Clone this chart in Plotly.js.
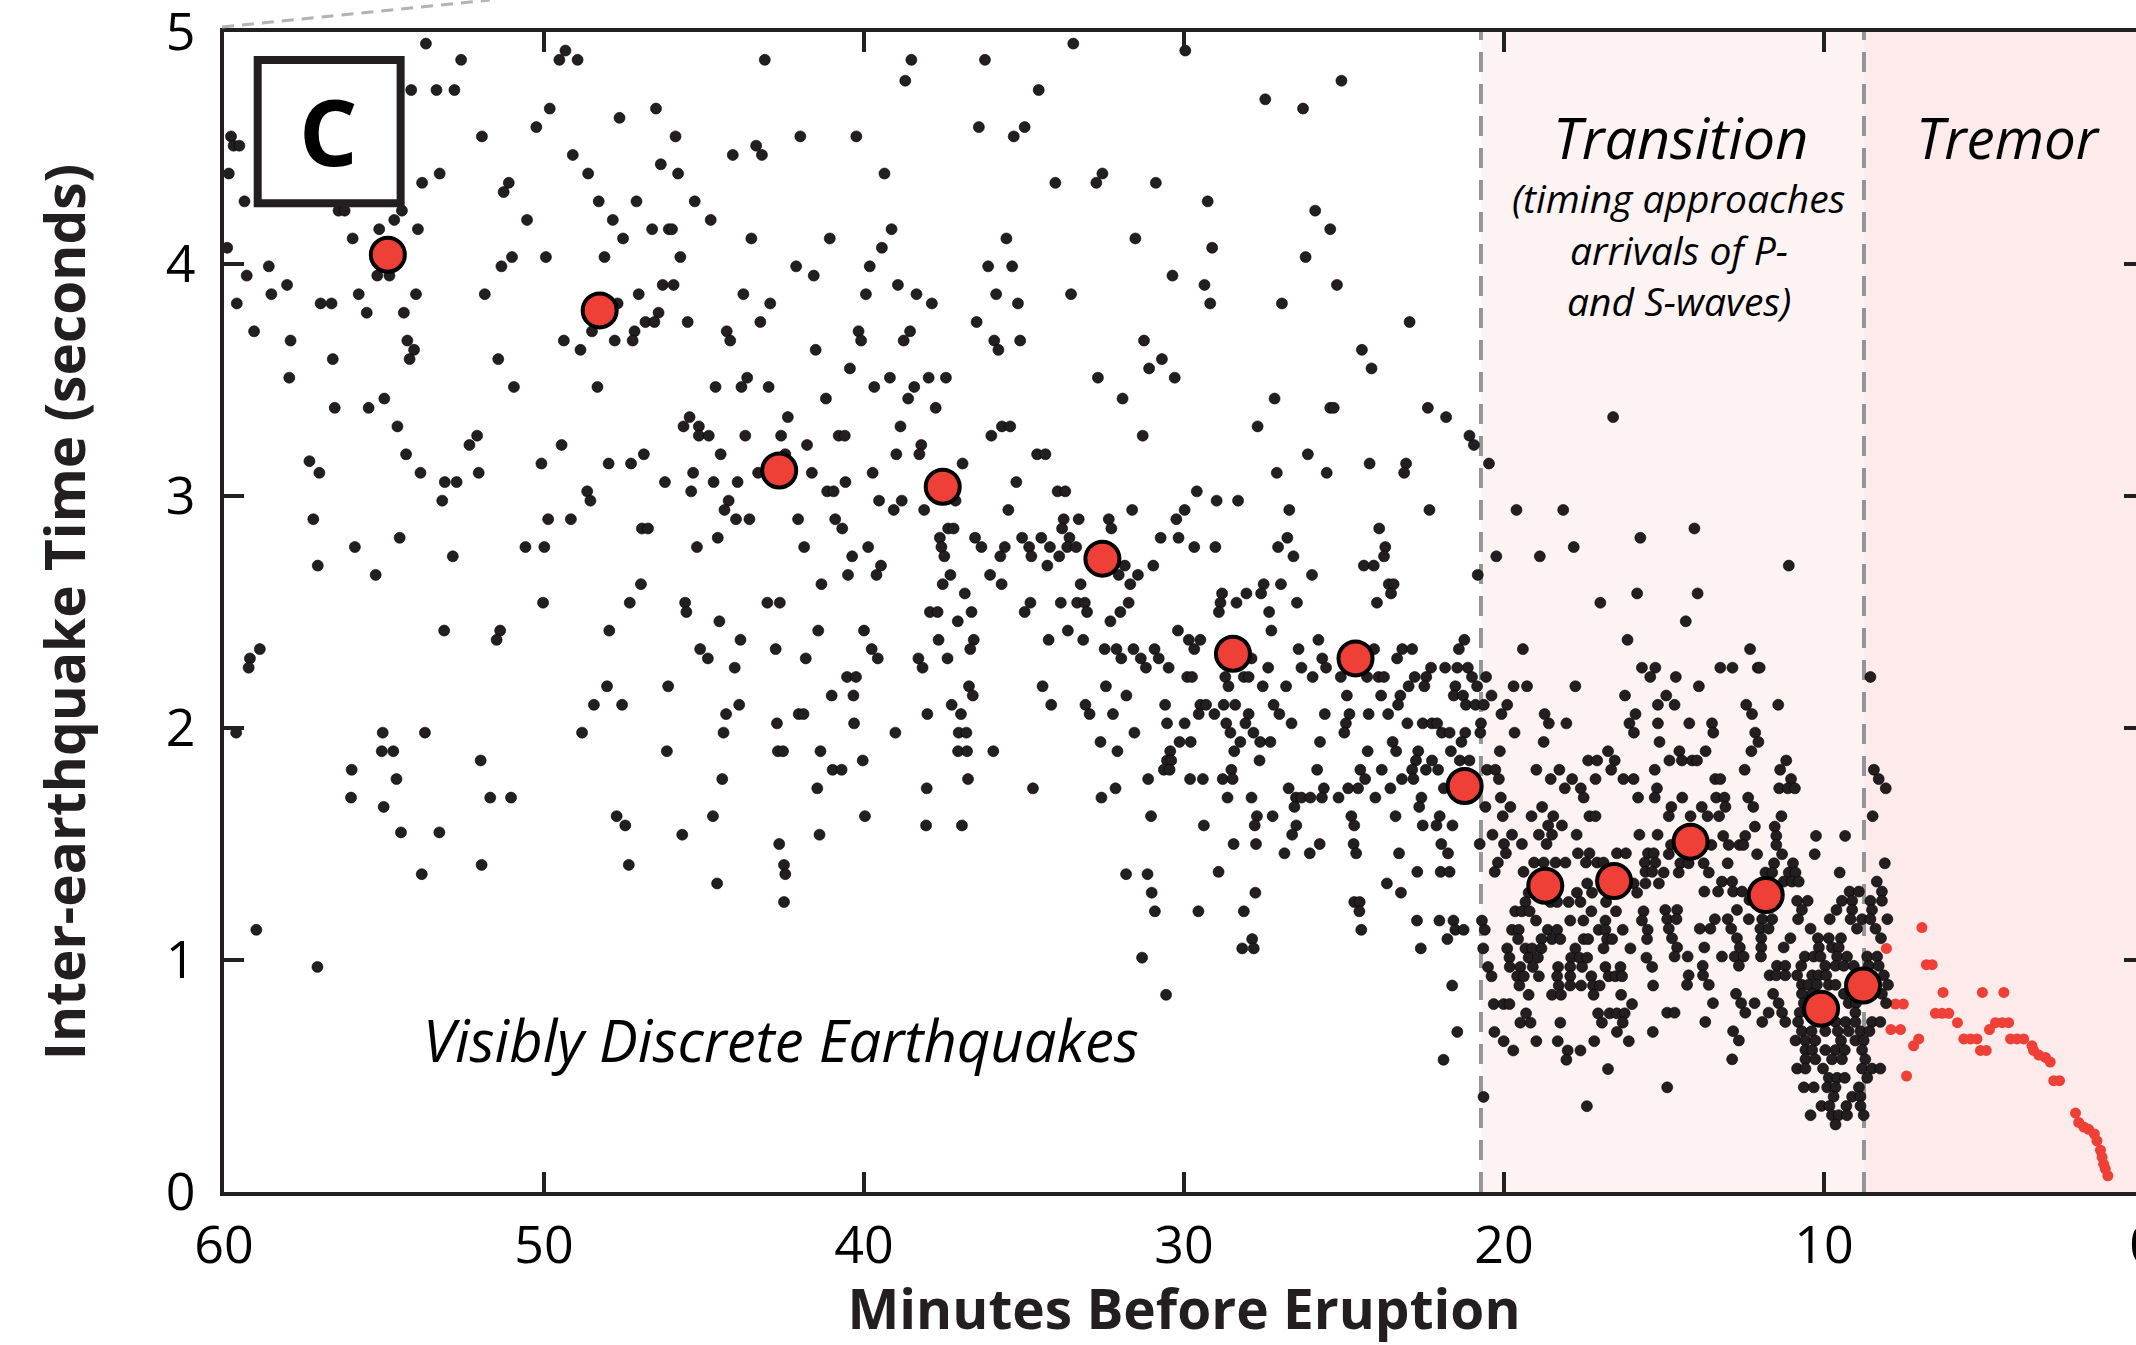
<!DOCTYPE html>
<html>
<head>
<meta charset="utf-8">
<script src="https://cdn.plot.ly/plotly-3.0.1.min.js"></script>
<style>
  html, body { margin: 0; padding: 0; overflow: hidden; background: #fff; }
  #chart { width: 2152px; height: 1345px; }
</style>
</head>
<body>
<div id="chart"></div>
<script>
// ---- Data: [minutes before eruption, inter-earthquake time (s)] ----
const quakesRegion1 = [[53.69,4.95],[52.59,4.88],[49.33,4.92],[49.52,4.88],[48.95,4.88],[54.15,4.75],[53.36,4.75],[52.80,4.75],[49.82,4.67],[47.64,4.63],[46.50,4.67],[59.78,4.55],[59.70,4.51],[59.52,4.51],[51.94,4.55],[50.24,4.59],[45.89,4.55],[59.85,4.39],[53.26,4.39],[53.81,4.35],[49.10,4.47],[48.62,4.39],[46.35,4.43],[45.81,4.39],[51.10,4.35],[51.26,4.31],[59.36,4.27],[48.29,4.27],[47.11,4.27],[45.29,4.27],[56.42,4.23],[56.23,4.23],[54.44,4.23],[54.68,4.19],[50.53,4.19],[47.85,4.19],[55.15,4.15],[53.94,4.15],[46.62,4.15],[46.10,4.15],[46.00,4.15],[55.98,4.11],[47.53,4.11],[59.90,4.07],[51.00,4.03],[49.94,4.03],[48.11,4.03],[45.74,4.03],[51.33,3.99],[58.60,3.99],[59.29,3.95],[55.21,3.95],[54.83,3.95],[58.03,3.91],[46.29,3.91],[45.95,3.91],[58.52,3.87],[55.79,3.87],[54.00,3.87],[51.85,3.87],[47.04,3.87],[59.60,3.83],[56.98,3.83],[56.64,3.83],[47.70,3.83],[55.54,3.79],[54.38,3.79],[46.42,3.79],[46.83,3.75],[46.55,3.75],[45.51,3.75],[59.06,3.71],[48.50,3.71],[47.17,3.71],[57.92,3.67],[54.27,3.67],[49.38,3.67],[47.79,3.67],[47.23,3.67],[54.06,3.63],[48.86,3.63],[56.60,3.59],[54.20,3.59],[51.43,3.59],[57.96,3.51],[50.94,3.47],[48.33,3.47],[54.99,3.42],[56.54,3.38],[55.48,3.38],[45.45,3.34],[45.64,3.30],[45.16,3.30],[54.58,3.30]];
const quakesRegion2 = [[43.10,4.88],[38.52,4.88],[36.22,4.88],[33.46,4.95],[38.71,4.79],[34.54,4.75],[41.99,4.55],[40.24,4.55],[36.41,4.59],[34.98,4.59],[35.32,4.55],[44.10,4.47],[43.37,4.51],[43.19,4.47],[39.36,4.39],[34.02,4.35],[32.74,4.35],[32.55,4.39],[30.88,4.35],[44.79,4.19],[43.52,4.11],[41.07,4.11],[39.14,4.15],[39.44,4.07],[35.55,4.11],[31.52,4.11],[42.12,3.99],[41.57,3.95],[39.82,3.99],[36.12,3.99],[35.37,3.99],[30.36,3.95],[43.77,3.87],[42.93,3.83],[39.94,3.87],[38.94,3.91],[38.36,3.87],[37.88,3.83],[35.87,3.87],[35.19,3.83],[33.53,3.87],[43.24,3.75],[44.29,3.71],[44.18,3.67],[40.17,3.71],[40.09,3.67],[38.56,3.71],[38.76,3.67],[36.48,3.75],[35.93,3.67],[35.80,3.63],[35.12,3.67],[31.25,3.67],[41.51,3.63],[40.44,3.55],[30.69,3.59],[31.09,3.55],[44.64,3.47],[43.83,3.47],[43.65,3.51],[42.98,3.47],[41.19,3.42],[39.68,3.47],[39.19,3.51],[38.43,3.47],[38.62,3.42],[37.98,3.51],[37.44,3.51],[37.76,3.38],[32.69,3.51],[31.92,3.42],[30.29,3.51],[42.38,3.34],[38.86,3.30],[35.69,3.30],[35.43,3.30]];
const quakesRegion3 = [[29.96,4.92],[25.08,4.79],[27.46,4.71],[26.28,4.67],[29.26,4.27],[25.90,4.23],[25.43,4.15],[29.12,4.07],[26.20,4.03],[29.36,3.91],[29.18,3.83],[26.94,3.83],[25.22,3.91],[22.95,3.75],[24.44,3.63],[24.14,3.55],[27.17,3.42],[25.43,3.38],[25.32,3.38],[22.38,3.38],[21.81,3.34],[27.70,3.30],[16.59,3.34]];
const quakesRegion5 = [[45.16,3.26],[52.09,3.26],[52.33,3.22],[49.45,3.22],[57.33,3.15],[57.02,3.10],[54.31,3.18],[53.86,3.10],[53.10,3.06],[52.73,3.06],[52.04,3.10],[50.08,3.14],[47.98,3.14],[47.28,3.14],[46.88,3.18],[45.34,3.10],[46.22,3.06],[48.65,3.02],[48.55,2.98],[45.40,3.02],[53.18,2.98],[57.21,2.90],[49.87,2.90],[49.16,2.90],[46.94,2.86],[46.75,2.86],[54.51,2.82],[55.91,2.78],[50.58,2.78],[49.99,2.78],[45.22,2.78],[52.85,2.74],[57.07,2.70],[55.26,2.66],[46.97,2.62],[50.03,2.54],[47.32,2.54],[45.59,2.54],[45.55,2.50],[53.12,2.42],[51.37,2.42],[51.48,2.38],[47.96,2.42],[45.12,2.34],[58.88,2.34],[59.19,2.30],[59.23,2.26],[48.03,2.18],[46.12,2.18],[48.44,2.10],[47.56,2.10],[59.62,1.98],[55.04,1.98],[53.72,1.98],[48.81,1.98],[55.07,1.90],[54.71,1.90],[46.16,1.90],[51.98,1.86],[56.01,1.82],[54.61,1.78],[56.03,1.70],[51.68,1.70],[51.03,1.70],[55.01,1.66],[47.73,1.62]];
const quakesRegion6 = [[44.85,3.26],[43.71,3.26],[42.59,3.26],[40.79,3.26],[40.60,3.26],[36.02,3.26],[31.29,3.26],[41.78,3.22],[38.21,3.22],[44.48,3.18],[42.46,3.18],[38.99,3.18],[38.27,3.18],[34.59,3.18],[34.33,3.18],[43.31,3.10],[41.63,3.10],[39.73,3.10],[36.92,3.14],[44.70,3.06],[43.95,3.06],[41.15,3.02],[40.95,3.02],[40.58,3.06],[35.24,3.06],[33.95,3.02],[33.71,3.02],[44.23,2.98],[44.36,2.94],[39.53,2.98],[38.82,2.98],[39.07,2.94],[38.12,2.94],[37.14,2.98],[35.49,2.94],[31.62,2.94],[44.00,2.90],[43.58,2.90],[42.06,2.90],[40.90,2.90],[40.68,2.86],[33.76,2.90],[33.29,2.90],[32.35,2.90],[32.27,2.86],[33.81,2.86],[30.24,2.90],[37.37,2.86],[37.20,2.86],[44.57,2.82],[41.87,2.78],[39.87,2.78],[37.63,2.82],[37.58,2.78],[37.49,2.74],[36.53,2.82],[36.33,2.78],[35.60,2.78],[35.74,2.74],[35.06,2.82],[34.84,2.78],[34.77,2.74],[34.46,2.82],[34.19,2.78],[34.27,2.70],[33.90,2.74],[33.58,2.82],[33.65,2.78],[33.37,2.78],[30.73,2.82],[30.17,2.82],[40.37,2.74],[39.47,2.70],[39.61,2.66],[40.50,2.66],[41.33,2.62],[31.85,2.70],[32.04,2.66],[31.44,2.66],[31.68,2.62],[30.96,2.70],[37.30,2.66],[37.54,2.62],[36.06,2.66],[35.70,2.62],[33.23,2.62],[36.85,2.58],[43.02,2.54],[42.63,2.54],[34.80,2.54],[34.98,2.50],[33.85,2.54],[33.34,2.54],[33.10,2.54],[33.03,2.50],[31.73,2.54],[31.99,2.50],[32.30,2.46],[37.94,2.50],[37.70,2.50],[36.64,2.50],[37.07,2.46],[44.52,2.46],[30.19,2.42],[41.43,2.42],[40.00,2.42],[33.63,2.42],[43.86,2.38],[37.67,2.38],[36.57,2.38],[36.68,2.34],[34.23,2.38],[33.15,2.38],[44.88,2.30],[42.76,2.34],[39.76,2.34],[39.57,2.30],[41.82,2.30],[38.30,2.30],[38.17,2.26],[37.39,2.30],[44.04,2.26],[32.48,2.34],[32.11,2.34],[31.96,2.30],[31.58,2.34],[31.35,2.30],[31.19,2.26],[30.92,2.34],[30.79,2.30],[30.48,2.26],[40.53,2.22],[40.25,2.22],[36.72,2.18],[36.60,2.14],[34.42,2.18],[32.44,2.18],[41.01,2.14],[40.33,2.14],[31.80,2.14],[43.90,2.10],[37.26,2.10],[36.97,2.06],[34.15,2.10],[33.08,2.10],[32.95,2.06],[30.59,2.10],[44.31,2.06],[42.04,2.06],[41.89,2.06],[38.02,2.06],[32.22,2.06],[42.72,2.02],[40.31,2.02],[30.53,2.02],[44.39,1.98],[39.02,1.98],[37.04,1.98],[36.80,1.98],[31.55,1.98],[32.61,1.94],[30.14,1.94],[42.69,1.90],[42.53,1.90],[41.36,1.90],[37.06,1.90],[36.78,1.90],[35.96,1.90],[32.08,1.90],[30.43,1.90],[30.53,1.86],[30.40,1.86],[30.63,1.82],[30.45,1.82],[40.04,1.86],[40.98,1.82],[40.70,1.82],[44.43,1.78],[36.75,1.78],[31.12,1.78],[41.46,1.74],[38.04,1.74],[34.72,1.74],[32.14,1.74],[32.58,1.70],[44.72,1.62],[39.97,1.62],[31.03,1.62]];
const quakesRegion7 = [[21.08,3.26],[20.94,3.22],[20.47,3.14],[26.13,3.18],[24.20,3.14],[23.06,3.14],[23.12,3.10],[27.10,3.10],[25.54,3.10],[29.60,3.02],[28.98,2.98],[28.31,2.98],[29.98,2.94],[26.71,2.94],[22.33,2.94],[19.61,2.94],[18.15,2.94],[23.90,2.86],[15.74,2.82],[26.77,2.82],[27.06,2.78],[26.58,2.74],[29.68,2.78],[29.02,2.78],[23.71,2.78],[23.75,2.74],[24.38,2.70],[24.07,2.70],[17.82,2.78],[20.24,2.74],[18.88,2.74],[26.00,2.66],[20.82,2.66],[27.51,2.62],[27.59,2.58],[26.97,2.62],[28.81,2.58],[28.86,2.54],[28.91,2.50],[28.05,2.58],[28.36,2.54],[26.47,2.54],[23.60,2.62],[23.45,2.62],[23.53,2.58],[23.97,2.54],[27.34,2.50],[15.84,2.58],[16.99,2.54],[27.27,2.42],[16.14,2.38],[29.85,2.38],[29.49,2.38],[29.68,2.34],[25.80,2.38],[26.42,2.34],[25.68,2.30],[25.56,2.26],[24.06,2.34],[23.18,2.34],[22.87,2.34],[23.34,2.30],[21.24,2.38],[21.41,2.34],[19.41,2.34],[27.89,2.30],[27.37,2.26],[26.33,2.26],[22.28,2.26],[22.43,2.22],[22.49,2.18],[21.84,2.26],[21.46,2.26],[21.13,2.26],[21.00,2.22],[20.84,2.18],[20.56,2.22],[15.69,2.26],[15.27,2.26],[15.43,2.22],[29.90,2.22],[29.75,2.22],[28.71,2.22],[28.61,2.18],[28.13,2.22],[27.98,2.22],[27.54,2.18],[26.81,2.18],[25.98,2.22],[25.10,2.22],[24.28,2.22],[23.92,2.22],[23.75,2.22],[22.79,2.22],[22.98,2.18],[21.52,2.18],[21.57,2.14],[21.28,2.14],[19.70,2.18],[19.28,2.18],[17.77,2.18],[24.91,2.14],[23.84,2.14],[23.24,2.14],[23.31,2.10],[20.39,2.14],[16.22,2.14],[29.49,2.10],[29.31,2.10],[28.76,2.10],[28.40,2.10],[27.20,2.10],[27.02,2.06],[21.19,2.10],[20.89,2.10],[20.63,2.10],[19.90,2.10],[20.08,2.06],[15.19,2.10],[29.54,2.06],[29.05,2.06],[27.98,2.06],[28.08,2.02],[25.60,2.06],[24.83,2.06],[24.94,2.02],[24.99,1.98],[24.23,2.06],[23.62,2.06],[18.73,2.06],[18.60,2.02],[15.89,2.06],[16.08,2.02],[15.94,1.98],[29.98,2.02],[28.68,2.02],[28.55,1.98],[27.83,1.98],[26.64,2.02],[23.02,2.02],[22.54,2.02],[22.25,2.02],[22.09,2.02],[21.94,1.98],[21.70,1.98],[21.21,1.98],[21.33,1.94],[20.72,2.02],[20.74,1.98],[19.67,1.98],[18.05,2.02],[15.19,2.02],[29.79,1.94],[28.24,1.94],[27.62,1.94],[27.30,1.94],[25.75,1.94],[23.48,1.94],[23.37,1.90],[18.76,1.94],[15.14,1.94],[28.43,1.90],[24.26,1.90],[22.68,1.90],[22.75,1.86],[22.87,1.82],[21.66,1.90],[20.13,1.90],[16.75,1.90],[16.54,1.86],[27.64,1.86],[22.25,1.86],[21.38,1.86],[21.08,1.86],[17.37,1.86],[17.09,1.86],[28.52,1.82],[28.79,1.78],[28.48,1.78],[29.81,1.78],[29.41,1.78],[25.84,1.82],[24.49,1.82],[24.34,1.78],[23.82,1.82],[22.44,1.82],[22.06,1.82],[23.19,1.78],[22.83,1.78],[20.53,1.82],[20.27,1.82],[20.16,1.78],[18.99,1.82],[18.54,1.78],[18.27,1.82],[17.87,1.78],[17.14,1.78],[16.65,1.82],[16.27,1.78],[15.95,1.78],[15.29,1.82],[26.73,1.74],[26.50,1.70],[26.55,1.66],[25.63,1.74],[25.69,1.70],[24.87,1.74],[24.56,1.74],[23.55,1.74],[21.88,1.74],[18.10,1.74],[17.60,1.74],[17.51,1.70],[15.22,1.74],[28.64,1.70],[27.89,1.70],[26.33,1.70],[26.05,1.70],[25.17,1.70],[24.02,1.70],[22.58,1.70],[22.65,1.66],[20.10,1.70],[15.81,1.70],[15.29,1.70],[20.58,1.66],[19.80,1.66],[18.81,1.66],[27.72,1.62],[27.23,1.62],[24.77,1.62],[23.39,1.62],[22.01,1.62],[20.04,1.62],[19.14,1.62],[18.46,1.62],[17.33,1.62],[17.14,1.62]];
const quakesRegion8 = [[14.05,2.86],[11.10,2.70],[13.95,2.58],[14.32,2.46],[12.31,2.34],[13.24,2.26],[12.86,2.26],[12.07,2.26],[12.01,2.26],[14.63,2.22],[8.55,2.22],[13.91,2.18],[14.93,2.14],[14.67,2.10],[12.43,2.10],[12.25,2.06],[11.43,2.10],[14.21,2.02],[13.50,2.02],[13.46,1.98],[12.15,1.98],[12.05,1.94],[14.52,1.90],[13.70,1.90],[12.27,1.90],[14.83,1.86],[14.44,1.86],[14.12,1.86],[13.97,1.86],[11.18,1.86],[11.37,1.82],[12.48,1.82],[8.44,1.82],[8.29,1.78],[8.07,1.74],[13.40,1.78],[13.24,1.78],[11.03,1.78],[11.40,1.74],[11.13,1.74],[10.91,1.74],[14.43,1.70],[13.37,1.70],[13.11,1.70],[12.37,1.70],[14.77,1.66],[13.82,1.66],[13.08,1.66],[12.21,1.66],[14.85,1.62],[14.17,1.62],[13.64,1.62],[13.28,1.62],[11.33,1.62],[8.48,1.62]];
const quakesRegion9 = [[54.47,1.55],[53.82,1.37],[53.27,1.55],[51.95,1.41],[47.46,1.58],[47.35,1.41],[45.68,1.54],[58.99,1.13],[57.08,0.97]];
const quakesRegion10 = [[38.06,1.58],[36.94,1.58],[41.39,1.54],[42.65,1.50],[42.50,1.41],[42.46,1.37],[42.50,1.25],[44.59,1.33],[31.81,1.37],[31.14,1.37],[31.01,1.29],[30.91,1.21],[31.31,1.01],[30.56,0.85]];
const quakesRegion11 = [[29.38,1.58],[27.79,1.58],[26.49,1.58],[26.62,1.54],[24.68,1.58],[22.54,1.58],[22.11,1.58],[21.61,1.58],[18.62,1.58],[18.19,1.58],[20.36,1.54],[19.75,1.54],[18.91,1.54],[18.50,1.54],[17.73,1.54],[15.77,1.54],[15.20,1.54],[28.45,1.50],[27.75,1.50],[25.76,1.50],[24.70,1.50],[24.62,1.46],[21.96,1.50],[21.75,1.46],[20.76,1.50],[20.00,1.50],[19.94,1.46],[19.44,1.50],[18.67,1.50],[26.86,1.46],[26.07,1.46],[23.28,1.46],[17.69,1.46],[17.33,1.46],[16.47,1.46],[16.19,1.46],[15.50,1.46],[15.32,1.46],[20.19,1.42],[20.29,1.38],[19.06,1.42],[18.76,1.42],[18.39,1.42],[18.08,1.42],[17.44,1.42],[17.09,1.42],[16.89,1.42],[15.60,1.42],[15.27,1.42],[28.92,1.38],[22.71,1.38],[21.98,1.38],[21.70,1.38],[19.39,1.38],[15.58,1.38],[15.37,1.38],[23.66,1.33],[17.40,1.33],[17.25,1.29],[15.95,1.33],[15.58,1.33],[15.16,1.33],[27.77,1.29],[23.22,1.29],[19.23,1.29],[17.72,1.29],[15.84,1.29],[24.68,1.25],[24.51,1.25],[24.52,1.21],[19.33,1.25],[18.55,1.25],[18.34,1.25],[17.98,1.25],[17.61,1.25],[16.81,1.25],[29.55,1.21],[28.13,1.21],[19.65,1.21],[19.44,1.21],[19.20,1.21],[17.27,1.21],[16.50,1.21],[15.64,1.21],[22.72,1.17],[22.02,1.17],[21.58,1.17],[20.69,1.17],[20.60,1.13],[19.00,1.17],[17.93,1.17],[17.52,1.17],[16.83,1.17],[15.69,1.17],[24.46,1.13],[21.52,1.13],[21.26,1.13],[19.75,1.13],[19.54,1.13],[19.56,1.09],[18.63,1.13],[18.34,1.13],[18.50,1.09],[18.24,1.09],[17.51,1.09],[17.37,1.09],[17.04,1.13],[16.83,1.13],[16.78,1.09],[16.62,1.09],[16.29,1.13],[15.51,1.13],[15.53,1.09],[21.77,1.09],[18.83,1.09],[27.87,1.09],[28.18,1.05],[27.82,1.05],[22.60,1.05],[20.65,1.05],[19.90,1.05],[19.33,1.05],[19.12,1.05],[18.83,1.05],[17.77,1.05],[16.89,1.05],[16.05,1.05],[19.83,1.01],[19.23,1.01],[18.94,1.01],[17.90,1.01],[17.64,1.01],[17.40,1.01],[15.55,1.01],[20.50,0.97],[20.39,0.93],[19.82,0.97],[19.49,0.97],[19.10,0.97],[18.31,0.97],[17.93,0.97],[17.56,0.97],[16.83,0.97],[16.36,0.97],[15.37,0.97],[19.59,0.93],[19.38,0.93],[18.91,0.93],[18.34,0.93],[17.93,0.93],[17.27,0.93],[16.73,0.93],[16.52,0.93],[16.31,0.93],[19.52,0.89],[18.29,0.89],[17.93,0.89],[17.59,0.89],[17.22,0.89],[17.01,0.89],[15.34,0.89],[21.62,0.89],[19.23,0.85],[18.50,0.85],[18.22,0.85],[17.20,0.85],[16.34,0.85],[20.32,0.81],[20.01,0.81],[19.83,0.81],[16.00,0.81],[19.31,0.77],[19.49,0.73],[19.17,0.73],[18.24,0.73],[17.06,0.77],[16.70,0.77],[16.47,0.77],[16.23,0.77],[16.94,0.73],[16.29,0.73],[21.46,0.69],[20.30,0.69],[16.47,0.69],[15.35,0.69],[20.01,0.65],[18.99,0.65],[18.32,0.65],[17.18,0.65],[16.10,0.65],[19.71,0.61],[18.01,0.61],[17.61,0.61],[18.05,0.57],[21.89,0.57],[16.75,0.53],[20.64,0.41],[17.41,0.37]];
const quakesRegion12 = [[12.16,1.575],[11.54,1.575],[13.15,1.535],[12.46,1.535],[11.49,1.535],[10.25,1.535],[9.34,1.535],[14.78,1.496],[13.52,1.496],[12.98,1.496],[12.64,1.496],[12.52,1.496],[11.49,1.496],[14.85,1.456],[12.09,1.456],[11.31,1.456],[10.29,1.456],[14.49,1.417],[14.23,1.417],[13.76,1.417],[13.01,1.417],[11.56,1.417],[10.97,1.417],[8.10,1.417],[15.01,1.377],[14.54,1.377],[13.60,1.377],[11.83,1.377],[11.62,1.377],[11.10,1.377],[10.89,1.377],[9.51,1.377],[13.19,1.338],[12.87,1.338],[11.26,1.338],[11.00,1.338],[10.79,1.338],[8.35,1.338],[13.74,1.295],[13.31,1.295],[12.84,1.295],[12.56,1.295],[9.20,1.295],[8.91,1.295],[8.19,1.295],[12.33,1.259],[10.84,1.255],[10.51,1.255],[9.44,1.255],[9.12,1.255],[8.55,1.255],[8.19,1.255],[14.96,1.216],[14.59,1.216],[12.72,1.216],[10.69,1.216],[9.61,1.216],[9.12,1.216],[8.50,1.216],[14.90,1.176],[14.61,1.176],[13.41,1.176],[13.01,1.176],[12.35,1.176],[11.93,1.176],[11.62,1.176],[10.81,1.176],[9.82,1.176],[9.17,1.176],[8.81,1.176],[8.55,1.176],[8.02,1.176],[14.85,1.135],[13.88,1.135],[13.55,1.135],[12.90,1.135],[11.99,1.135],[11.73,1.135],[10.42,1.135],[8.97,1.135],[8.39,1.135],[14.75,1.094],[12.72,1.094],[11.96,1.094],[11.05,1.094],[10.19,1.094],[9.85,1.094],[9.47,1.094],[8.22,1.094],[14.59,1.054],[13.74,1.054],[12.63,1.054],[11.96,1.054],[11.26,1.054],[10.16,1.054],[9.75,1.054],[9.54,1.054],[14.67,1.015],[14.26,1.015],[13.19,1.015],[12.79,1.015],[12.51,1.015],[11.97,1.015],[10.60,1.015],[10.32,1.015],[10.11,1.015],[9.59,1.015],[9.28,1.015],[8.65,1.015],[8.34,1.015],[13.79,0.975],[12.66,0.975],[11.47,0.975],[11.21,0.975],[10.71,0.975],[9.96,0.975],[9.64,0.975],[9.38,0.975],[9.07,0.975],[8.60,0.975],[8.29,0.975],[14.23,0.934],[13.78,0.934],[11.70,0.934],[11.49,0.934],[11.21,0.934],[10.84,0.934],[10.37,0.934],[10.16,0.934],[9.93,0.934],[8.13,0.934],[14.28,0.893],[13.60,0.893],[10.69,0.893],[10.48,0.893],[10.22,0.893],[9.85,0.893],[9.64,0.893],[8.00,0.893],[12.75,0.854],[11.59,0.854],[10.69,0.854],[10.37,0.854],[9.38,0.854],[8.19,0.854],[13.47,0.814],[12.59,0.814],[12.17,0.814],[11.42,0.814],[10.63,0.814],[9.23,0.814],[9.00,0.814],[8.06,0.814],[14.90,0.773],[14.67,0.773],[12.46,0.773],[11.73,0.773],[11.31,0.773],[10.76,0.773],[9.02,0.773],[13.71,0.733],[11.93,0.733],[11.21,0.733],[10.81,0.733],[9.64,0.733],[9.33,0.733],[9.02,0.733],[8.50,0.733],[8.24,0.733],[12.84,0.693],[10.69,0.693],[10.39,0.693],[9.96,0.693],[9.57,0.693],[9.23,0.693],[8.86,0.693],[8.58,0.693],[12.66,0.653],[10.89,0.653],[10.58,0.653],[10.27,0.653],[9.47,0.653],[9.02,0.653],[8.76,0.653],[10.58,0.612],[10.37,0.612],[9.96,0.612],[9.64,0.612],[9.35,0.612],[8.81,0.612],[12.87,0.572],[10.58,0.572],[10.27,0.572],[9.75,0.572],[9.44,0.572],[8.71,0.572],[10.84,0.532],[10.58,0.532],[10.03,0.532],[8.81,0.532],[8.50,0.532],[8.24,0.532],[9.85,0.492],[9.59,0.492],[9.35,0.492],[8.65,0.492],[14.90,0.451],[10.63,0.451],[10.32,0.451],[9.90,0.451],[9.64,0.451],[8.91,0.451],[9.70,0.411],[9.12,0.411],[8.86,0.411],[10.08,0.371],[9.83,0.371],[9.30,0.371],[8.86,0.371],[10.42,0.331],[9.75,0.331],[9.54,0.331],[9.28,0.331],[8.76,0.331],[9.64,0.291]];

// Binned means (large red circles)
const meanMinutes = [54.88, 48.26, 42.65, 37.54, 32.55, 28.47, 24.64, 21.23, 18.71, 16.56, 14.17, 11.82, 10.09, 8.78];
const meanSeconds = [4.04, 3.80, 3.11, 3.04, 2.73, 2.32, 2.30, 1.75, 1.32, 1.34, 1.51, 1.28, 0.79, 0.89];

// Tremor-phase intervals (small red dots)
const tremorMinutes = [8.05,6.94,6.80,6.62,6.28,5.05,4.38,7.77,7.52,6.52,6.31,6.10,5.83,4.64,4.43,4.23,7.91,7.61,4.83,7.04,7.20,5.63,5.42,5.22,5.11,4.93,4.17,3.97,3.76,3.50,3.45,3.29,3.08,2.93,2.82,2.64,7.42,2.14,2.04,1.88,1.73,1.55,1.47,1.36,1.31,1.26,1.21,1.13];
const tremorSeconds = [1.05,1.14,0.98,0.98,0.86,0.86,0.86,0.81,0.81,0.77,0.77,0.77,0.73,0.73,0.73,0.73,0.70,0.70,0.70,0.66,0.63,0.66,0.66,0.66,0.61,0.61,0.66,0.66,0.66,0.63,0.61,0.59,0.58,0.56,0.48,0.48,0.50,0.34,0.30,0.28,0.27,0.25,0.22,0.18,0.15,0.12,0.10,0.07];

// Phase boundaries (minutes before eruption)
const transitionStart = 20.72;
const tremorStart = 8.75;

const xTicks = [60, 50, 40, 30, 20, 10, 0];
const yTicks = [0, 1, 2, 3, 4, 5];

// ---- Build ----
const allQuakes = [].concat(quakesRegion1, quakesRegion2, quakesRegion3, quakesRegion5, quakesRegion6,
  quakesRegion7, quakesRegion8, quakesRegion9, quakesRegion10, quakesRegion11, quakesRegion12);

const INK = '#231f20';
const RED = '#ee4036';
const FONT = '"Open Sans", "Noto Sans", sans-serif';

const traces = [
  {
    type: 'scatter', mode: 'markers', name: 'Tremor',
    x: tremorMinutes, y: tremorSeconds,
    marker: { color: RED, size: 11, line: { width: 0 } },
    hoverinfo: 'skip'
  },
  {
    type: 'scatter', mode: 'markers', name: 'Earthquakes',
    x: allQuakes.map(p => p[0]), y: allQuakes.map(p => p[1]),
    marker: { color: INK, size: 11, line: { width: 0.6, color: '#000' } },
    hoverinfo: 'skip'
  },
  {
    type: 'scatter', mode: 'markers', name: 'Mean',
    x: meanMinutes, y: meanSeconds,
    marker: { color: RED, size: 34, line: { width: 4, color: '#000' } },
    hoverinfo: 'skip'
  }
];

const layout = {
  width: 2152, height: 1345,
  margin: { l: 224, r: 8, t: 32, b: 153 },
  paper_bgcolor: '#fff', plot_bgcolor: '#fff',
  showlegend: false,
  font: { family: FONT, color: '#000' },
  xaxis: {
    range: [60, 0],
    tickvals: xTicks, ticktext: xTicks.map(String),
    ticks: 'inside', ticklen: 20, tickwidth: 4, tickcolor: INK,
    showline: true, linewidth: 4, linecolor: INK, mirror: 'ticks',
    showgrid: false, zeroline: false,
    tickfont: { family: FONT, size: 52, color: '#000' },
    ticklabelstandoff: 5, ticklabeloverflow: 'allow',
    title: { text: 'Minutes Before Eruption', standoff: 30,
             font: { family: FONT, size: 55, weight: 700, color: '#231f20' } }
  },
  yaxis: {
    range: [0, 5],
    tickvals: yTicks, ticktext: yTicks.map(String),
    ticks: 'inside', ticklen: 20, tickwidth: 4, tickcolor: INK,
    showline: true, linewidth: 4, linecolor: INK, mirror: 'ticks',
    showgrid: false, zeroline: false,
    tickfont: { family: FONT, size: 52, color: '#000' },
    ticklabelstandoff: 14, ticklabeloverflow: 'allow',
    title: { text: 'Inter-earthquake Time (seconds)', standoff: 64,
             font: { family: FONT, size: 55, weight: 700, color: '#231f20' } }
  },
  shapes: [
    { type: 'rect', xref: 'x', yref: 'y', x0: transitionStart, x1: tremorStart, y0: 0, y1: 5,
      fillcolor: '#fdf3f2', line: { width: 0 }, layer: 'below' },
    { type: 'rect', xref: 'x', yref: 'y', x0: tremorStart, x1: 0, y0: 0, y1: 5,
      fillcolor: '#fdeaea', line: { width: 0 }, layer: 'below' },
    { type: 'line', xref: 'x', yref: 'y', x0: transitionStart, x1: transitionStart, y0: 0, y1: 5,
      line: { color: '#939598', width: 4, dash: '20px,12px' }, layer: 'below' },
    { type: 'line', xref: 'x', yref: 'y', x0: tremorStart, x1: tremorStart, y0: 0, y1: 5,
      line: { color: '#939598', width: 4, dash: '20px,12px' }, layer: 'below' },
    { type: 'rect', xref: 'paper', yref: 'paper', x0: 0.01755, x1: 0.0920, y0: 0.8523, y1: 0.9759,
      fillcolor: '#fff', line: { color: INK, width: 8 }, layer: 'above' },
    { type: 'line', xref: 'paper', yref: 'paper', x0: -0.001, y0: 1.0043, x1: 0.1385, y1: 1.0276,
      line: { color: '#b3b3b3', width: 3, dash: '12px,8px' }, layer: 'above' }
  ],
  annotations: [
    { xref: 'paper', yref: 'paper', x: 0.0542, y: 0.9147, text: '<b>C</b>', showarrow: false,
      xanchor: 'center', yanchor: 'middle', font: { family: FONT, size: 92, color: '#000' } },
    { xref: 'x', yref: 'y', x: 42.6, y: 0.659, text: '<i>Visibly Discrete Earthquakes</i>', showarrow: false,
      xanchor: 'center', yanchor: 'middle', font: { family: FONT, size: 58, color: '#000' } },
    { xref: 'x', yref: 'y', x: 14.5, y: 4.547, text: '<i>Transition</i>', showarrow: false,
      xanchor: 'center', yanchor: 'middle', font: { family: FONT, size: 57.5, color: '#000' } },
    { xref: 'x', yref: 'y', x: 14.53, y: 4.287, text: '<i>(timing approaches</i>', showarrow: false,
      xanchor: 'center', yanchor: 'middle', font: { family: FONT, size: 39, color: '#000' } },
    { xref: 'x', yref: 'y', x: 14.53, y: 4.062, text: '<i>arrivals of P-</i>', showarrow: false,
      xanchor: 'center', yanchor: 'middle', font: { family: FONT, size: 39, color: '#000' } },
    { xref: 'x', yref: 'y', x: 14.53, y: 3.843, text: '<i>and S-waves)</i>', showarrow: false,
      xanchor: 'center', yanchor: 'middle', font: { family: FONT, size: 39, color: '#000' } },
    { xref: 'x', yref: 'y', x: 4.25, y: 4.547, text: '<i>Tremor</i>', showarrow: false,
      xanchor: 'center', yanchor: 'middle', font: { family: FONT, size: 56.5, color: '#000' } }
  ]
};

Plotly.newPlot('chart', traces, layout, { displayModeBar: false, staticPlot: true });
</script>
</body>
</html>
